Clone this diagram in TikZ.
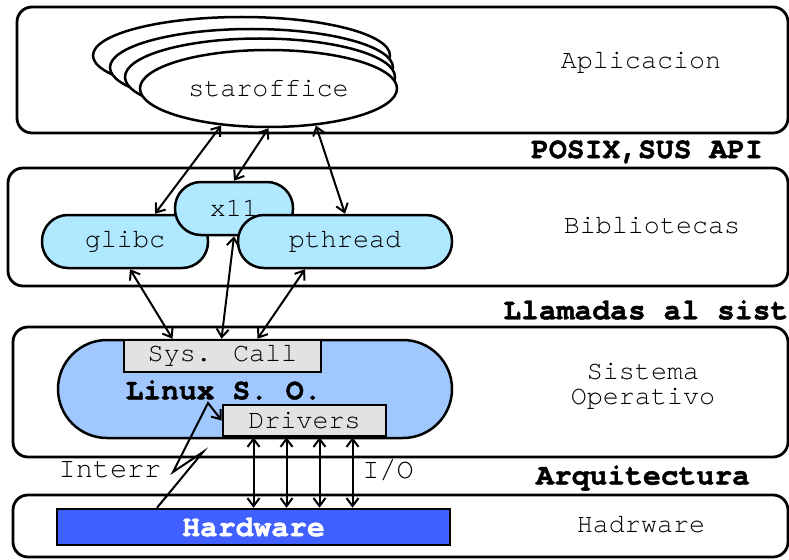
\documentclass[tikz,border=0pt]{standalone}
\usepackage{fontspec}
\usepackage{tikz}
\usetikzlibrary{shapes.geometric,arrows.meta}
\newfontfamily\cour{texgyrecursor}[Extension=.otf, UprightFont=*-regular, BoldFont=*-bold, BoldFeatures={FakeBold=1.5}, Ligatures=NoCommon]
\newcommand\fsz[1]{\fontsize{#1}{#1}\selectfont}
\definecolor{libblue}{RGB}{176,232,255}
\definecolor{osblue}{RGB}{160,200,255}
\definecolor{hwblue}{RGB}{64,96,255}
\definecolor{boxgray}{RGB}{226,226,226}
\tikzstyle{capa} = [draw, line width=2.8pt, rounded corners=15pt, inner sep=0pt]
\tikzstyle{app} = [draw, ellipse, line width=2.5pt, fill=white, inner sep=0pt, minimum height=77pt, font=\cour\fsz{26.7}]
\tikzstyle{lib} = [draw, line width=2.5pt, fill=libblue, rounded corners=26pt, minimum height=53pt, inner sep=0pt, font=\cour\fsz{26.7}]
\tikzstyle{gbox} = [draw, line width=2.5pt, fill=boxgray, inner sep=0pt, font=\cour\fsz{26.7}]
\tikzstyle{lbl} = [inner sep=0pt, font=\cour\fsz{26.7}]
\tikzstyle{hdr} = [inner sep=0pt, font=\cour\bfseries\fsz{29.7}]
\tikzstyle{dbl} = [{Straight Barb[length=8pt,width=12pt]}-{Straight Barb[length=8pt,width=12pt]}, line width=2pt]

\begin{document}
\begin{tikzpicture}[x=1pt,y=-1pt]
	\useasboundingbox (0,0) rectangle (789,559);
	\node[capa, minimum width=771pt, minimum height=126pt] (capaapp) at (402.5,70) {};
	\node[capa, minimum width=780pt, minimum height=118pt] (capalib) at (398,227) {};
	\node[capa, minimum width=775pt, minimum height=130pt] (capaos) at (400.5,392) {};
	\node[capa, minimum width=775pt, minimum height=62pt] (capahw) at (400.5,526) {};
	\node[lbl] (tapp) at (641,63) {Aplicacion};
	\node[lbl] (tlib) at (652,226) {Bibliotecas};
	\node[lbl, align=center] (tos) at (643,386) {Sistema\\[-2pt]Operativo};
	\node[lbl] (thw) at (641,525) {Hadrware};
	\node[hdr] (posix) at (647,152) {POSIX,SUS API};
	\node[hdr, anchor=west] (llam) at (503,310) {Llamadas al sist};
	\node[hdr] (arq) at (643,478) {Arquitectura};
	\node[app, minimum width=297pt] (star4) at (241.5,55.5) {};
	\node[app, minimum width=283pt] (star3) at (251.5,67.5) {};
	\node[app, minimum width=270pt] (star2) at (260,77) {};
	\node[app, minimum width=257pt] (star) at (268.5,88.5) {staroffice};
	\node[lib, minimum width=166pt] (glibc) at (125,241.5) {glibc};
	\node[lib, minimum width=118pt] (x11) at (234,208.5) {x11};
	\node[lib, minimum width=214pt] (pthread) at (345,241.5) {pthread};
	\node[draw, line width=2.5pt, fill=osblue, rounded corners=49pt, minimum width=394pt, minimum height=98pt] (os) at (255,389) {};
	\node[gbox, minimum width=197pt, minimum height=32pt] (syscall) at (222.5,356) {Sys. Call};
	\node[gbox, minimum width=163pt, minimum height=31pt] (drivers) at (304.5,420.5) {Drivers};
	\node[hdr] (linux) at (223.5,390) {Linux S. O.};
	\node[draw, line width=2.5pt, fill=hwblue, minimum width=393pt, minimum height=36pt, inner sep=0pt, text=white, font=\cour\bfseries\fsz{29.7}] (hw) at (253.5,527) {Hardware};
	\node[inner sep=0pt, font=\cour\fsz{28.5}] (interr) at (110,470) {Interr};
	\node[inner sep=0pt, font=\cour\fsz{28.5}] (io) at (388,470) {I/O};
	\draw[dbl] (star.218) -- ([xshift=30pt]glibc.north);
	\draw[dbl] (star.south) -- (x11.north);
	\draw[dbl] (star.322) -- (pthread.north);
	\draw[dbl] ([xshift=5pt]glibc.south) -- ([xshift=-50pt]syscall.north);
	\draw[dbl] (x11.south) -- ([xshift=-1pt]syscall.north);
	\draw[dbl] ([xshift=-40pt]pthread.south) -- ([xshift=35pt]syscall.north);
	\foreach \dx in {-51,-18,15,48}
		\draw[dbl] ([xshift=\dx pt]drivers.south) -- ([xshift=\dx pt]drivers.south |- hw.north);
	\draw[line width=2pt, -{Straight Barb[length=8pt,width=12pt]}] ([xshift=-96.5pt]hw.north) -- (203,452) -- (173,472) -- (208,403) -- (drivers.west);
\end{tikzpicture}
\end{document}
